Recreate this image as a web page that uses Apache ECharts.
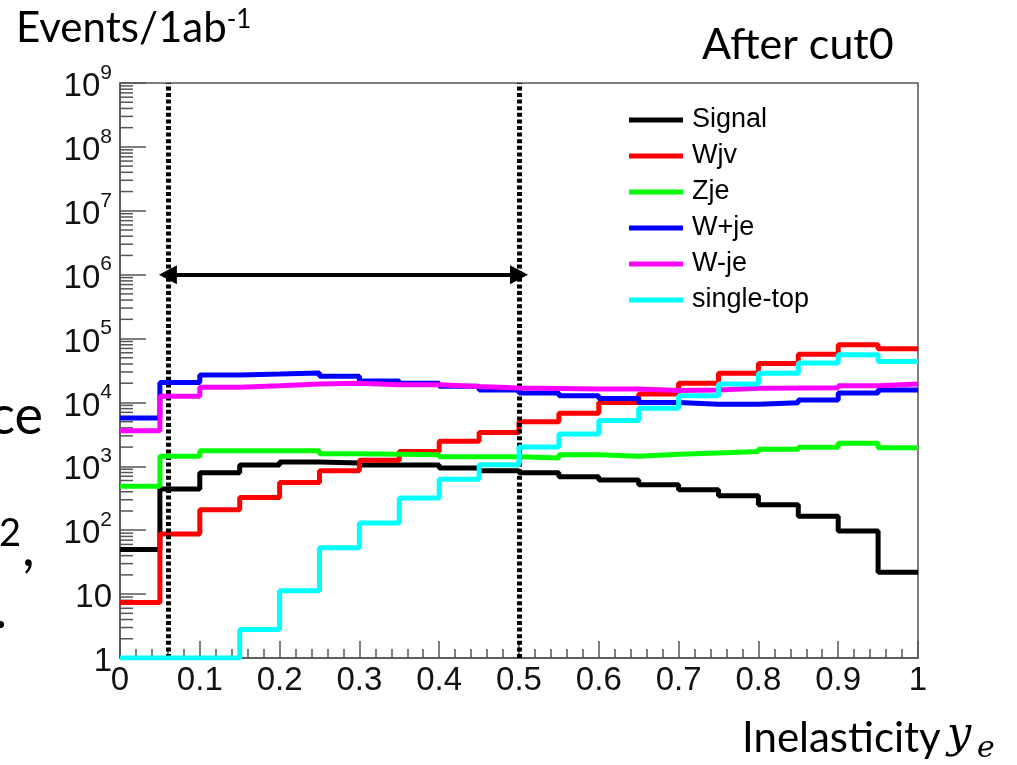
<!DOCTYPE html>
<html><head><meta charset="utf-8">
<script src="https://cdn.jsdelivr.net/npm/echarts@6/dist/echarts.min.js"></script>
<style>html,body{margin:0;padding:0;background:#fff}#c{width:1017px;height:765px}</style>
</head><body><div id="c"></div>
<script>
// ---- data ----
const binLow = [0,0.05,0.1,0.15,0.2,0.25,0.3,0.35,0.4,0.45,0.5,0.55,0.6,0.65,0.7,0.75,0.8,0.85,0.9,0.95];
const binEnd = 1;
const seriesNames = ['Signal','Wjv','Zje','W+je','W-je','single-top'];
const seriesColors = ['#000000','#ff0000','#00ff00','#0000ff','#ff00ff','#00ffff'];
const signal    = [50,440,790,1050,1170,1130,1050,1050,940,850,790,690,610,515,430,345,250,165,97,22];
const wjv       = [7.4,87,210,325,560,850,1240,1700,2460,3400,5000,6800,10000,13500,20000,28600,40700,57000,80000,69000];
const zje       = [490,1440,1750,1750,1750,1580,1550,1520,1410,1410,1350,1520,1440,1540,1620,1700,1850,1990,2290,1960];
const wPlusJe   = [5700,20500,27000,27800,28800,25600,21700,20000,18000,15600,14100,12700,11500,10000,9400,9400,9900,10900,14100,15600];
const wMinusJe  = [3600,12500,17300,18300,19400,19900,19000,18900,17700,16800,16600,16300,16200,15400,15600,16700,16800,17000,18300,19400];
const singleTop = [1,1,1,2.8,11.3,53,130,320,630,1060,2000,3200,5200,8100,12700,19400,28600,41400,56000,43600];
const cutLow = 0.06, cutHigh = 0.5, arrowLevel = 1e6;
const yMinorMultipliers = [2,3,4,5,6,7,8,9];
const yDecades = [0,1,2,3,4,5,6,7,8];

const allValues = [signal, wjv, zje, wPlusJe, wMinusJe, singleTop];

function histPoints(vals){
  const pts = binLow.map((x,i)=>[x, vals[i]]);
  pts.push([binEnd, vals[vals.length-1]]);
  return pts;
}

const yMinorData = [];
yDecades.forEach(d => yMinorMultipliers.forEach(k => yMinorData.push([0, k*Math.pow(10,d)])));

const chart = echarts.init(document.getElementById('c'), null, {renderer:'canvas'});

const series = allValues.map((vals,i)=>({
  name: seriesNames[i], type:'line', step:'end', data: histPoints(vals),
  symbol:'none', color: seriesColors[i],
  lineStyle:{color: seriesColors[i], width:5}, itemStyle:{color: seriesColors[i]},
  z: 3 + i, animation:false
}));

series.push({
  name:'cuts', type:'line', data:[], symbol:'none', z: 20, animation:false,
  markLine:{
    silent:true, animation:false, symbol:['none','none'], label:{show:false},
    lineStyle:{color:'#000', width:5, type:[4,2.6]},
    data:[{xAxis: cutLow},{xAxis: cutHigh}]
  }
});
series.push({
  name:'arrow', type:'line', data:[], symbol:'none', z: 21, animation:false,
  markLine:{
    silent:true, animation:false, symbol:['triangle','triangle'], symbolSize:[19,18], label:{show:false},
    lineStyle:{color:'#000', width:4, type:'solid'},
    data:[[{coord:[cutLow, arrowLevel]},{coord:[cutHigh, arrowLevel]}]]
  }
});
series.push({
  name:'yminor', type:'custom', data: yMinorData, silent:true, clip:false, z: 2, animation:false,
  renderItem: function(params, api){
    const p = api.coord([0, api.value(1)]);
    return {type:'line', shape:{x1:p[0], y1:p[1], x2:p[0]+13, y2:p[1]}, style:{stroke:'#555', lineWidth:1.5}};
  }
});

const option = {
  backgroundColor:'#fff',
  animation:false,
  grid:{left:120, top:83, right:99, bottom:107, show:true, borderColor:'#555', borderWidth:1.5, backgroundColor:'transparent'},
  legend:{
    data: seriesNames, orient:'vertical', left:624, top:100, icon:'rect', padding:5,
    itemWidth:54, itemHeight:5, itemGap:6, selectedMode:false,
    textStyle:{fontFamily:'Liberation Sans', fontSize:27, lineHeight:30, color:'#000', padding:[0,0,0,4]}
  },
  xAxis:{
    type:'value', min:0, max:1, interval:0.1,
    axisLine:{lineStyle:{color:'#555', width:1.5}},
    axisTick:{inside:true, length:17, lineStyle:{color:'#555', width:1.5}},
    minorTick:{show:true, splitNumber:5, length:9, lineStyle:{color:'#555', width:1.5}},
    splitLine:{show:false},
    axisLabel:{fontFamily:'Liberation Sans', fontSize:33, color:'#111', margin:6,
      formatter: v => String(Math.round(v*10)/10)}
  },
  yAxis:{
    type:'log', logBase:10, min:1, max:1e9, interval:1,
    axisLine:{lineStyle:{color:'#555', width:1.5}},
    axisTick:{inside:true, length:26, lineStyle:{color:'#555', width:1.5}},
    splitLine:{show:false},
    axisLabel:{margin:8, color:'#111',
      formatter: v => {
        const e = Math.round(Math.log10(v));
        if (e === 0) return '{b|1}';
        if (e === 1) return '{b|10}';
        return '{b|10}{s|' + e + '}';
      },
      rich:{
        b:{fontFamily:'Liberation Sans', fontSize:33, color:'#111', padding:[8,0,0,0]},
        s:{fontFamily:'Liberation Sans', fontSize:21, color:'#111', verticalAlign:'top'}
      }
    }
  },
  graphic:[
    {type:'text', left:16, top:7, style:{text:'{a|Events/1ab}{s|-1}', rich:{
      a:{fontFamily:'Lato', fontSize:42, fill:'#000', verticalAlign:'bottom'},
      s:{fontFamily:'Lato', fontSize:26, fill:'#000', verticalAlign:'top'}}}},
    {type:'text', left:702, top:24, style:{text:'After cut0', fontFamily:'Lato', fontSize:43, fill:'#000'}},
    {type:'text', left:742, top:717, style:{text:'Inelasticity', fontFamily:'Lato', fontSize:42, fill:'#000'}},
    {type:'text', left:947, top:714, style:{text:'y', fontFamily:'DejaVu Serif', fontStyle:'italic', fontSize:43, fill:'#000'}},
    {type:'text', left:977, top:734, style:{text:'e', fontFamily:'DejaVu Serif', fontStyle:'italic', fontSize:30, fill:'#000'}},
    {type:'text', right:974, top:390, style:{text:'ce', fontFamily:'Lato', fontSize:54, fill:'#000'}},
    {type:'text', left:-1, top:515, style:{text:'2', fontFamily:'Lato', fontSize:38, fill:'#000'}},
    {type:'text', left:22, top:520, style:{text:',', fontFamily:'Lato', fontSize:56, fill:'#000'}},
    {type:'text', left:-6, top:582, style:{text:'.', fontFamily:'Lato', fontSize:56, fill:'#000'}}
  ],
  series: series
};
chart.setOption(option);
</script>
</body></html>
